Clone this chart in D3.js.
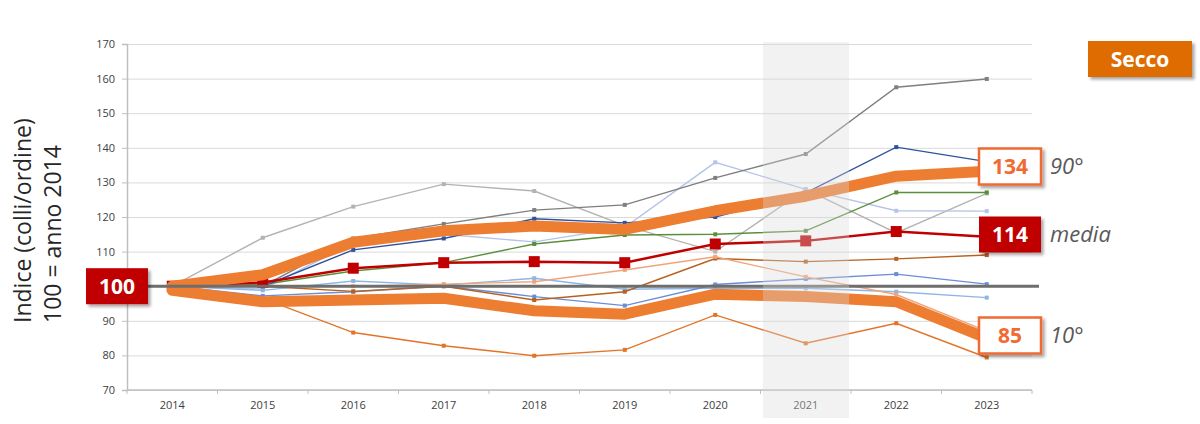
<!DOCTYPE html>
<html>
<head>
<meta charset="utf-8">
<script src="https://cdn.jsdelivr.net/npm/d3@7"></script>
<style>
  body { margin: 0; background: #fff; }
  svg { font-family: "Open Sans", sans-serif; }
</style>
</head>
<body>
<svg width="1200" height="424"></svg>
<script>
// dati
const anni = ["2014", "2015", "2016", "2017", "2018", "2019", "2020", "2021", "2022", "2023"];
const yTicks = [70, 80, 90, 100, 110, 120, 130, 140, 150, 160, 170];

const grigioChiaro = [100, 114, 123, 129.5, 127.5, 117.5, 110, 128, 115.4, 126.8];
const grigioScuro = [100, 100, 113.8, 118, 122, 123.5, 131.3, 138.2, 157.5, 159.9];
const bluScuro = [100, 100, 110.5, 113.8, 119.5, 118.3, 120, 127, 140.2, 136];
const verde = [100, 100.5, 104.4, 106.8, 112.2, 114.8, 115, 116, 127.1, 127.1];
const salmone = [100, 100, 100, 100.6, 101.3, 104.7, 108.5, 102.7, 97.6, 87];
const marrone = [100, 100, 98.5, 100, 96, 98.4, 108, 107.1, 107.9, 109];
const bluMedio = [100, 97.2, 98.4, 100, 97, 94.4, 100.5, 102.1, 103.5, 100.6];
const azzurro = [100, 99.2, 112.5, 115, 112.8, 117, 135.8, 128, 121.8, 121.7];
const celeste = [100, 98.8, 101.5, 100.3, 102.3, 99.1, 99.4, 99.4, 98.4, 96.7];
const arancio = [100, 96.5, 86.6, 82.8, 79.9, 81.6, 91.7, 83.5, 89.3, 79.4];

const media = [100, 101.1, 105.2, 106.8, 107.1, 106.8, 112.2, 113.1, 115.8, 114.3];
const p90 = [100, 103.3, 112.7, 116, 117.4, 116.4, 121.8, 126, 131.8, 133.2];
const p10 = [98.8, 95.5, 96, 96.5, 92.9, 91.9, 97.7, 97, 95.5, 85];

const etichette = [
  { testo: "134", tipo: "bianco", nome: "90°" },
  { testo: "114", tipo: "rosso", nome: "media" },
  { testo: "85", tipo: "bianco", nome: "10°" }
];

const svg = d3.select("svg");

const defs = svg.append("defs");
const f = defs.append("filter").attr("id", "ombra").attr("x", "-20%").attr("y", "-20%").attr("width", "150%").attr("height", "160%");
f.append("feDropShadow").attr("dx", 2.5).attr("dy", 2.5).attr("stdDeviation", 1.5).attr("flood-color", "#000").attr("flood-opacity", 0.35);

const x = d3.scaleBand().domain(anni).range([127, 1032]);
const y = d3.scaleLinear().domain([70, 170]).range([390, 44]);
const cx = d => x(d) + x.bandwidth() / 2;

// griglia
svg.append("g")
    .attr("transform", "translate(127,0)")
    .call(d3.axisLeft(y).tickValues(yTicks).tickSize(-905).tickFormat(""))
    .call(g => g.select(".domain").remove())
    .call(g => g.selectAll("line").attr("stroke", "#d9d9d9"));

// asse y (etichetta 100 coperta dal box)
svg.append("g")
    .attr("transform", "translate(127,0)")
    .call(d3.axisLeft(y).tickValues(yTicks).tickSize(5).tickPadding(7).tickFormat(d => d === 100 ? "" : d))
    .call(g => g.select(".domain").attr("stroke", "#bfbfbf").attr("stroke-width", 1.5))
    .call(g => g.selectAll("line").attr("stroke", "#bfbfbf"))
    .call(g => g.selectAll("text").attr("fill", "#404040").attr("font-size", 11).attr("font-family", "Open Sans"));

// asse x
const xAxis = svg.append("g").attr("transform", "translate(0,390)");
xAxis.append("line").attr("x1", 127).attr("x2", 1032).attr("stroke", "#bfbfbf").attr("stroke-width", 1.5);
xAxis.selectAll(".tk").data(anni.concat(["end"])).enter().append("line")
    .attr("x1", d => d === "end" ? 1032 : x(d))
    .attr("x2", d => d === "end" ? 1032 : x(d))
    .attr("y1", 0).attr("y2", 4).attr("stroke", "#bfbfbf");
xAxis.selectAll(".lb").data(anni).enter().append("text")
    .attr("x", d => cx(d)).attr("y", 19)
    .attr("text-anchor", "middle").attr("font-size", 11).attr("fill", "#404040")
    .text(d => d);

const line = d3.line().x((d, i) => cx(anni[i])).y(d => y(d));

const sottili = [
  [grigioChiaro, "#b3b3b3"],
  [azzurro, "#b4c4e8"],
  [celeste, "#8db5e6"],
  [bluMedio, "#6b8dd6"],
  [marrone, "#b8601e"],
  [salmone, "#f2a37a"],
  [verde, "#5a8f3a"],
  [bluScuro, "#2f51a0"],
  [grigioScuro, "#7f7f7f"],
  [arancio, "#e27428"]
];

sottili.forEach(([vals, col]) => {
  svg.append("path").datum(vals).attr("d", line)
      .attr("fill", "none").attr("stroke", col).attr("stroke-width", 1.4);
  svg.selectAll(null).data(vals).enter().append("rect")
      .attr("x", (d, i) => cx(anni[i]) - 2).attr("y", d => y(d) - 2)
      .attr("width", 4).attr("height", 4).attr("fill", col);
});

// media
svg.append("path").datum(media).attr("d", line)
    .attr("fill", "none").attr("stroke", "#c00000").attr("stroke-width", 2.5);
svg.selectAll(null).data(media).enter().append("rect")
    .attr("x", (d, i) => cx(anni[i]) - 5.5).attr("y", d => y(d) - 5.5)
    .attr("width", 11).attr("height", 11).attr("fill", "#c00000");

// percentili
[p90, p10].forEach(vals => {
  svg.append("path").datum(vals).attr("d", line)
      .attr("fill", "none").attr("stroke", "#ed7d31").attr("stroke-width", 11)
      .attr("stroke-linejoin", "round").attr("stroke-linecap", "round");
});

// linea 100
svg.append("line")
    .attr("x1", 90).attr("x2", 1039).attr("y1", y(100)).attr("y2", y(100))
    .attr("stroke", "#6e6e6e").attr("stroke-width", 3);

// evidenza 2021
svg.append("rect")
    .attr("x", x("2021") + 2.5).attr("y", 42)
    .attr("width", x.bandwidth() - 4.5).attr("height", 376)
    .attr("fill", "#d9d9d9").attr("opacity", 0.35);

function box(cxv, cyv, w, h, testo, tipo) {
  const g = svg.append("g");
  g.append("rect")
      .attr("x", cxv - w / 2).attr("y", cyv - h / 2).attr("width", w).attr("height", h)
      .attr("fill", tipo === "rosso" ? "#c00000" : "#fff")
      .attr("stroke", tipo === "rosso" ? "none" : "#f06a32")
      .attr("stroke-width", 2.5)
      .attr("filter", "url(#ombra)");
  g.append("text")
      .attr("x", cxv).attr("y", cyv).attr("dy", "0.36em")
      .attr("text-anchor", "middle").attr("font-size", 21).attr("font-weight", "bold")
      .attr("fill", tipo === "rosso" ? "#fff" : "#f06a32")
      .text(testo);
}

box(117, y(100), 62, 36, "100", "rosso");

const posEtichette = [166.5, 234.5, 335.5];
etichette.forEach((e, i) => {
  box(1010, posEtichette[i], 62, 36, e.testo, e.tipo);
  svg.append("text")
      .attr("x", 1050).attr("y", posEtichette[i]).attr("dy", "0.36em")
      .attr("font-size", 22).attr("font-style", "italic").attr("fill", "#595959")
      .text(e.nome);
});

// Secco
svg.append("rect")
    .attr("x", 1088).attr("y", 41).attr("width", 104).attr("height", 36)
    .attr("fill", "#df6c00").attr("filter", "url(#ombra)");
svg.append("text")
    .attr("x", 1140).attr("y", 59).attr("dy", "0.36em")
    .attr("text-anchor", "middle").attr("font-size", 21).attr("font-weight", "bold")
    .attr("fill", "#fff").text("Secco");

// titolo asse
const tit = svg.append("text")
    .attr("transform", "translate(0,323) rotate(-90)")
    .attr("font-size", 23).attr("fill", "#262626");
tit.append("tspan").attr("x", 0).attr("y", 31).text("Indice (colli/ordine)");
tit.append("tspan").attr("x", 0).attr("y", 61).text("100 = anno 2014");
</script>
</body>
</html>
